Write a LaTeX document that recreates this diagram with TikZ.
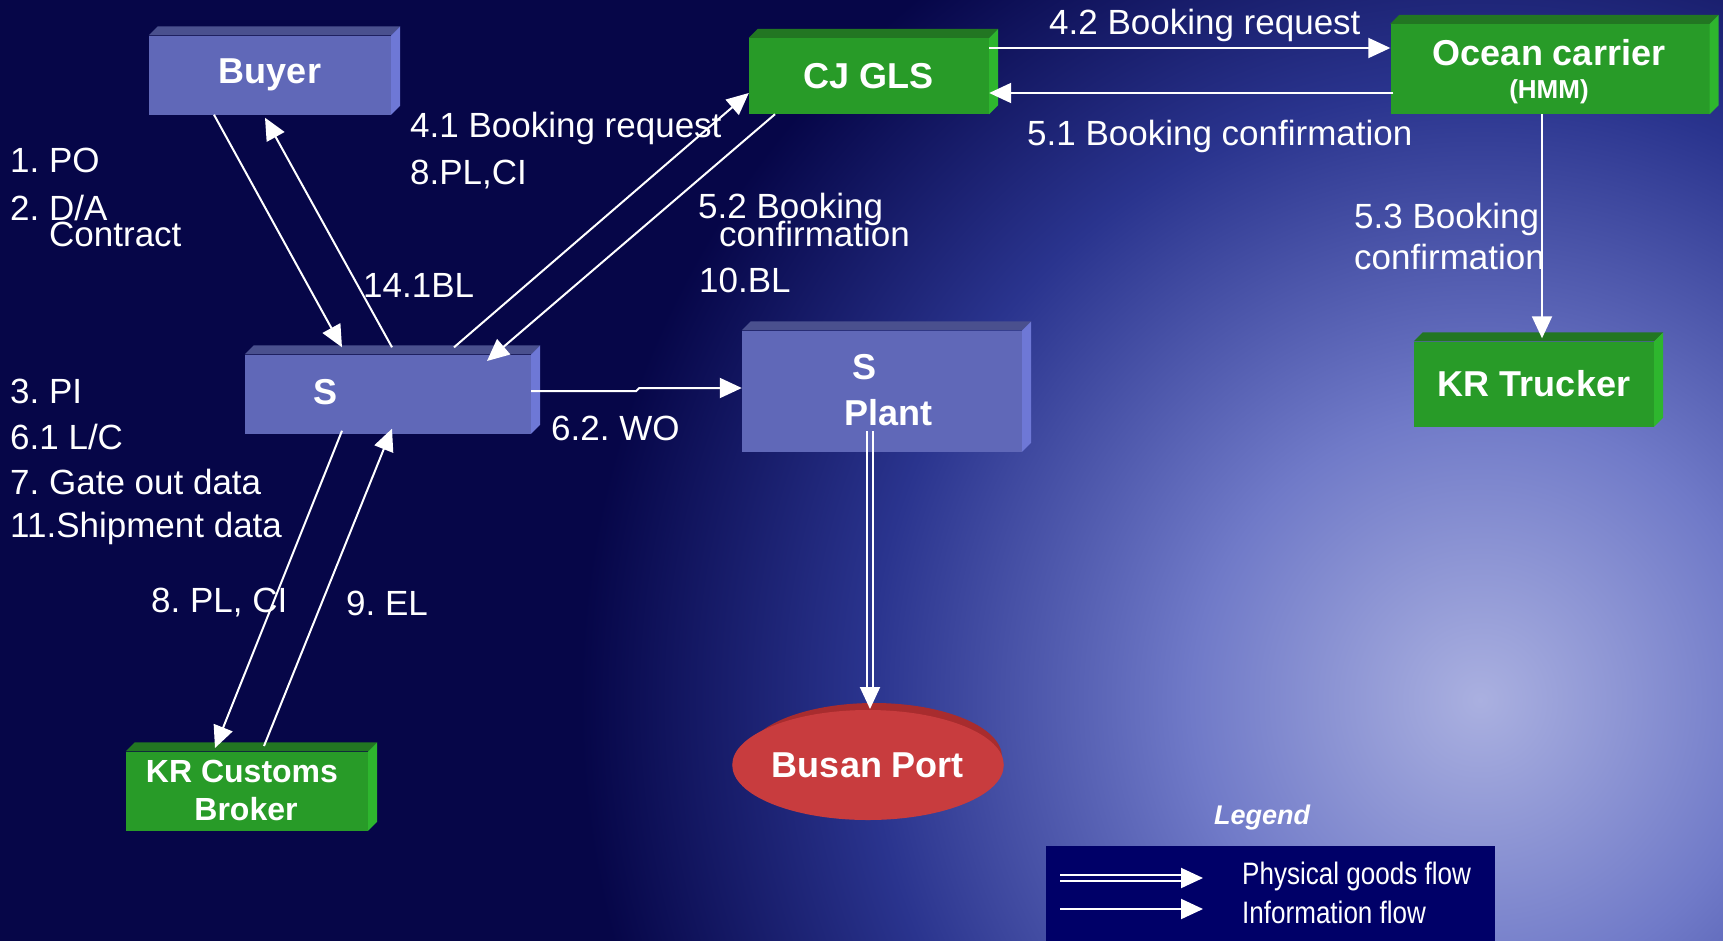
\documentclass[tikz,border=0pt]{standalone}
\usepackage{fontspec}
\setmainfont{Liberation Sans}
\usetikzlibrary{arrows.meta,calc,shapes.geometric}
\definecolor{bgnavy}{RGB}{6,6,72}
\definecolor{glowA}{RGB}{170,176,224}
\definecolor{glowB}{RGB}{112,122,200}
\definecolor{glowC}{RGB}{42,52,142}
\definecolor{bluefront}{RGB}{96,104,184}
\definecolor{bluetop}{RGB}{74,80,142}
\definecolor{blueside}{RGB}{110,120,214}
\definecolor{greenfront}{RGB}{40,155,40}
\definecolor{greentop}{RGB}{34,118,34}
\definecolor{greenside}{RGB}{46,182,46}
\definecolor{portred}{RGB}{200,60,62}
\definecolor{portrim}{RGB}{168,44,46}
\definecolor{legendnavy}{RGB}{0,0,104}
\pgfdeclareradialshading{bgglow}{\pgfpoint{0bp}{0bp}}{color(0bp)=(glowA);color(8bp)=(glowB);color(17bp)=(glowC);color(25bp)=(bgnavy);color(50bp)=(bgnavy)}
\newcommand{\bevel}[3]{%
  \fill[#2] (#1.north west) -- ++(9,-9) -- ([shift={(9,-9)}]#1.north east) -- (#1.north east) -- cycle;
  \fill[#3] (#1.north east) -- ++(9,-9) -- ([shift={(9,-9)}]#1.south east) -- (#1.south east) -- cycle;}
\frenchspacing
\begin{document}
\begin{tikzpicture}[x=1pt,y=-1pt,
  bluebox/.style={rectangle, fill=bluefront, inner sep=0pt, text=white, font=\bfseries\fontsize{36}{40}\selectfont},
  greenbox/.style={rectangle, fill=greenfront, inner sep=0pt, text=white, font=\bfseries\fontsize{36}{40}\selectfont},
  boxlbl/.style={text=white, inner sep=0pt, font=\bfseries\fontsize{36}{40}\selectfont},
  lbl/.style={text=white, anchor=west, inner sep=0pt, font=\fontsize{35}{40}\selectfont},
  info/.style={draw=white, line width=2pt, -{Triangle[length=22pt,width=20pt]}},
  physline/.style={draw=white, line width=1.8pt}]
\useasboundingbox (0,0) rectangle (1723,940);
\fill[bgnavy] (-6,-6) rectangle (1729,946);
\begin{scope}
\clip (-6,-6) rectangle (1729,946);
\shade[shading=bgglow] (1480,700) circle (900);
\end{scope}

% boxes
\node[bluebox, minimum width=242, minimum height=79] (buyer) at (270,75) {Buyer};
\bevel{buyer}{bluetop}{blueside}
\node[greenbox, minimum width=240, minimum height=76] (cj) at (869,76) {CJ GLS};
\bevel{cj}{greentop}{greenside}
\node[greenbox, minimum width=319, minimum height=90] (ocean) at (1550,69) {};
\bevel{ocean}{greentop}{greenside}
\node[boxlbl] (oceanlbl) at (1549,53) {Ocean carrier};
\node[boxlbl, font=\bfseries\fontsize{26}{30}\selectfont] (hmm) at (1549,92) {(HMM)};
\node[bluebox, minimum width=286, minimum height=79] (s) at (388,394) {};
\bevel{s}{bluetop}{blueside}
\node[boxlbl] (slbl) at (326,392) {S};
\node[bluebox, minimum width=280, minimum height=121] (plant) at (882,391) {};
\bevel{plant}{bluetop}{blueside}
\node[boxlbl] (plantS) at (864,367) {S};
\node[boxlbl] (plantlbl) at (888,413) {Plant};
\node[greenbox, minimum width=240, minimum height=85] (trucker) at (1534,384) {KR Trucker};
\bevel{trucker}{greentop}{greenside}
\node[greenbox, minimum width=242, minimum height=79] (customs) at (247,791) {};
\bevel{customs}{greentop}{greenside}
\node[boxlbl, font=\bfseries\fontsize{32}{36}\selectfont] (customs1) at (242,771) {KR Customs};
\node[boxlbl, font=\bfseries\fontsize{32}{36}\selectfont] (customs2) at (246,809) {Broker};

% Busan Port
\fill[portrim] (874,757) ellipse [x radius=128, y radius=54];
\node[ellipse, fill=portred, inner sep=0pt, minimum width=256, minimum height=110, text=white, font=\bfseries\fontsize{36}{40}\selectfont] (port) at (868,765) {Busan Port};

% text labels
\node[lbl] (t1) at (10,160) {1. PO};
\node[lbl] (t2) at (10,208) {2. D/A};
\node[lbl] (t2b) at (49,234) {Contract};
\node[lbl] (t3) at (10,391) {3. PI};
\node[lbl] (t61) at (10,437) {6.1 L/C};
\node[lbl] (t7) at (10,482) {7. Gate out data};
\node[lbl] (t11) at (10,528) {11.Shipment data};
\node[lbl] (t141) at (363,285) {14.1BL};
\node[lbl] (t41) at (410,128) {4.1 Booking request};
\node[lbl] (t8a) at (410,175) {8.PL,CI};
\node[lbl] (t52) at (698,209) {5.2 Booking};
\node[lbl] (t52b) at (719,234) {confirmation};
\node[lbl] (t10) at (699,280) {10.BL};
\node[lbl] (t42) at (1049,25) {4.2 Booking request};
\node[lbl] (t51) at (1027,136) {5.1 Booking confirmation};
\node[lbl] (t53) at (1354,219) {5.3 Booking};
\node[lbl] (t53b) at (1354,257) {confirmation};
\node[lbl] (t62) at (551,428) {6.2. WO};
\node[lbl] (t8b) at (151,603) {8. PL, CI};
\node[lbl] (t9) at (346,603) {9. EL};

% information flows
\draw[info] ([shift={(-56,0)}]buyer.south) -- ([shift={(-46,-7)}]s.north);
\draw[info] ([shift={(4,-7)}]s.north) -- ([shift={(-5,3)}]buyer.south);
\draw[info] ([shift={(66,-7)}]s.north) -- ([shift={(0,17)}]cj.west);
\draw[info] ([shift={(-94,0)}]cj.south) -- ([shift={(99,-33)}]s.center);
\draw[info] ([shift={(0,-28)}]cj.east) -- ([shift={(0,-21)}]ocean.west);
\draw[info] ([shift={(3,24)}]ocean.west) -- ([shift={(0,17)}]cj.east);
\draw[info] ([shift={(-8,0)}]ocean.south) -- ([shift={(8,-3)}]trucker.north);
\draw[info] ([shift={(0,-3)}]s.east) -- ++(105,0) -- ++(3,-3) -- ([shift={(0,-3)}]plant.west);
\draw[info] ([shift={(-46,-3)}]s.south) -- ([shift={(-32,-43)}]customs.center);
\draw[info] ([shift={(17,-45)}]customs.center) -- ([shift={(4,-5)}]s.south);

% physical flow
\coordinate (pA) at ([shift={(-12,40)}]plant.center);
\coordinate (pB) at ([shift={(2,-56)}]port.center);
\draw[physline] ([xshift=-3pt]pA) -- ([xshift=-3pt]$(pB)+(0,-20)$);
\draw[physline] ([xshift=3pt]pA) -- ([xshift=3pt]$(pB)+(0,-20)$);
\draw[info] ($(pB)+(0,-22)$) -- (pB);

% legend
\node[text=white, inner sep=0pt, font=\bfseries\itshape\fontsize{27}{30}\selectfont] (legendtitle) at (1262,818) {Legend};
\node[rectangle, fill=legendnavy, inner sep=0pt, minimum width=449, minimum height=100] (legendbox) at (1270.5,896) {};
\coordinate (lA) at (1060,878);
\coordinate (lB) at (1203,878);
\draw[physline] ([yshift=3pt]lA) -- ([yshift=3pt]$(lB)+(-20,0)$);
\draw[physline] ([yshift=-3pt]lA) -- ([yshift=-3pt]$(lB)+(-20,0)$);
\draw[info] ($(lB)+(-22,0)$) -- (lB);
\coordinate (lC) at (1060,909);
\coordinate (lD) at (1203,909);
\draw[info] (lC) -- (lD);
\node[text=white, anchor=west, inner sep=0pt, font=\fontsize{31}{34}\selectfont] (phys) at (1242,876) {\scalebox{0.84}[1]{Physical goods flow}};
\node[text=white, anchor=west, inner sep=0pt, font=\fontsize{31}{34}\selectfont] (infot) at (1242,912) {\scalebox{0.84}[1]{Information flow}};
\end{tikzpicture}
\end{document}
